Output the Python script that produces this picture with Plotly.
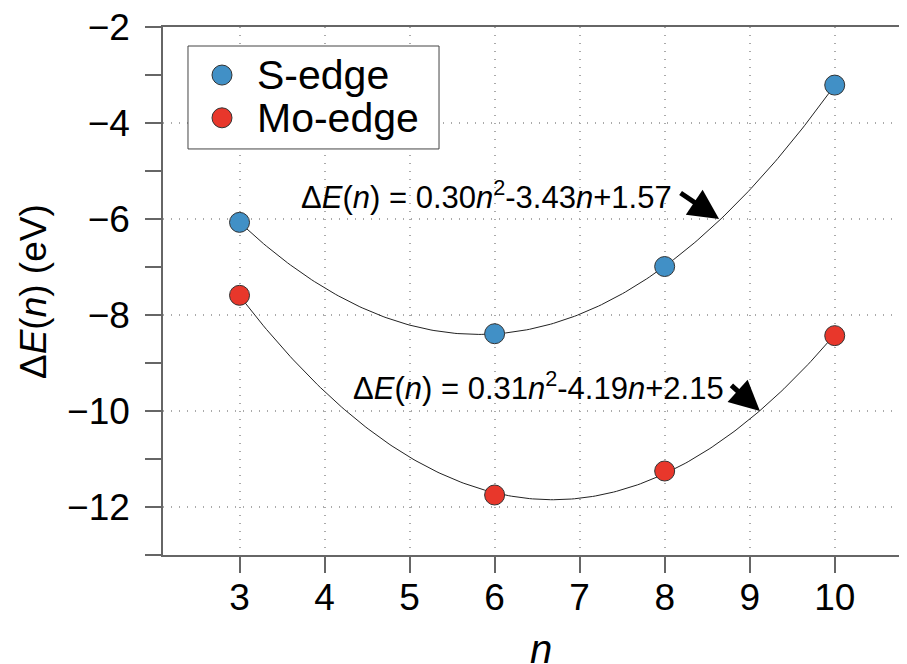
import numpy as np
import plotly.graph_objects as go

n_vals = [3, 6, 8, 10]
s_edge = [-6.07, -8.39, -6.99, -3.21]
mo_edge = [-7.59, -11.75, -11.25, -8.43]
series_names = ["S-edge", "Mo-edge"]

s_label = "Δ<i>E</i>(<i>n</i>) = 0.30<i>n</i><sup>2</sup>-3.43<i>n</i>+1.57"
mo_label = "Δ<i>E</i>(<i>n</i>) = 0.31<i>n</i><sup>2</sup>-4.19<i>n</i>+2.15"

FONT = "Liberation Sans, Arial, Helvetica, sans-serif"
BLUE = "#4190c6"
RED = "#e8372b"
EDGE = "#333333"
AX = "#666666"

xx = np.linspace(min(n_vals), max(n_vals), 200)
s_fit = np.polyval(np.polyfit(n_vals, s_edge, 2), xx)
mo_fit = np.polyval(np.polyfit(n_vals, mo_edge, 2), xx)

fig = go.Figure()
fig.add_trace(go.Scatter(x=xx, y=s_fit, mode="lines", line=dict(color="#222", width=1),
                         showlegend=False, hoverinfo="skip"))
fig.add_trace(go.Scatter(x=xx, y=mo_fit, mode="lines", line=dict(color="#222", width=1),
                         showlegend=False, hoverinfo="skip"))
fig.add_trace(go.Scatter(x=n_vals, y=s_edge, mode="markers", name=series_names[0],
                         showlegend=False,
                         marker=dict(size=20, color=BLUE, line=dict(color=EDGE, width=1))))
fig.add_trace(go.Scatter(x=n_vals, y=mo_edge, mode="markers", name=series_names[1],
                         showlegend=False,
                         marker=dict(size=20, color=RED, line=dict(color=EDGE, width=1))))

# equation labels
fig.add_annotation(x=5.91, y=-5.51, text=s_label, showarrow=False,
                   font=dict(size=31, color="black", family=FONT))
fig.add_annotation(x=6.52, y=-9.47, text=mo_label, showarrow=False,
                   font=dict(size=31, color="black", family=FONT))
# arrows
fig.add_annotation(x=8.64, y=-6.0, text="", showarrow=True, ax=-40, ay=-27,
                   arrowhead=2, arrowsize=1.2, arrowwidth=5, arrowcolor="black")
fig.add_annotation(x=9.12, y=-10.0, text="", showarrow=True, ax=-30, ay=-27,
                   arrowhead=2, arrowsize=1.2, arrowwidth=5, arrowcolor="black")

# manual legend (box, markers, labels)
fig.add_shape(type="rect", xref="paper", yref="paper", x0=0.0336, x1=0.371,
              y0=0.769, y1=0.964, line=dict(color="#444", width=1), fillcolor="white",
              layer="above")
for yy, col, name in [(0.909, BLUE, series_names[0]), (0.828, RED, series_names[1])]:
    fig.add_shape(type="circle", xref="paper", yref="paper", xsizemode="pixel",
                  ysizemode="pixel", xanchor=0.0793, yanchor=yy, x0=-10, x1=10,
                  y0=-10, y1=10, fillcolor=col, line=dict(color=EDGE, width=1),
                  layer="above")
    fig.add_annotation(xref="paper", yref="paper", x=0.124, y=yy, xanchor="left",
                       yanchor="middle", text=name, showarrow=False,
                       font=dict(size=41, color="black", family=FONT))

# axis titles
fig.add_annotation(xref="paper", yref="paper", x=-0.1747, y=0.498, textangle=-90,
                   text="Δ<i>E</i>(<i>n</i>) (eV)", showarrow=False,
                   xanchor="center", yanchor="middle",
                   font=dict(size=37, color="black", family=FONT))
fig.add_annotation(xref="paper", yref="paper", x=0.508, y=-0.178, text="<i>n</i>",
                   showarrow=False, xanchor="center", yanchor="middle",
                   font=dict(size=40, color="black", family=FONT))

# bottom axis line slight extension to the left
fig.add_shape(type="line", xref="paper", yref="paper", x0=-0.0108, x1=0, y0=0, y1=0,
              line=dict(color=AX, width=1.5))

# the page body has an 8px margin, so the figure is made 8px smaller
fig.update_layout(
    width=899, height=656,
    margin=dict(l=155, r=0, t=19, b=109),
    paper_bgcolor="white", plot_bgcolor="white",
    font=dict(family=FONT, color="black"),
    showlegend=False,
    xaxis=dict(range=[2.1, 10.85], dtick=1, tick0=0, ticks="outside", ticklen=16,
               tickwidth=1.5, tickcolor=AX, showline=True, linecolor=AX,
               linewidth=1.5, mirror=True, showgrid=True, gridcolor="#aaaaaa",
               griddash="1px,7px", gridwidth=1.5, zeroline=False, automargin=False,
               ticklabelstandoff=-7, ticklabeloverflow="allow",
               tickfont=dict(size=37, family=FONT)),
    yaxis=dict(range=[-13, -2], dtick=2, tick0=0, ticks="outside", ticklen=16,
               tickwidth=1.5, tickcolor=AX, showline=True, linecolor=AX,
               linewidth=1.5, mirror=False, showgrid=True, gridcolor="#aaaaaa",
               griddash="1px,7px", gridwidth=1.5, zeroline=False, automargin=False,
               ticklabelstandoff=8, ticklabeloverflow="allow",
               minor=dict(dtick=1, ticks="outside", ticklen=16, tickcolor=AX,
                          tickwidth=1.5, showgrid=False),
               tickfont=dict(size=37, family=FONT)),
)

fig.write_html("out.html")
